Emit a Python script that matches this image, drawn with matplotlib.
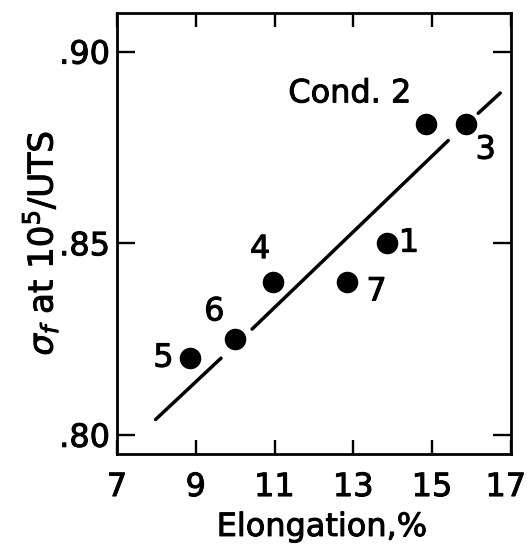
import matplotlib
matplotlib.use("Agg")
import matplotlib.pyplot as plt
import matplotlib.patheffects as pe
import matplotlib.transforms as mtransforms

# data
elongation = [8.85, 10.0, 10.95, 12.85, 13.85, 14.85, 15.85]
stress_ratio = [0.820, 0.825, 0.840, 0.840, 0.850, 0.881, 0.881]
point_labels = ["5", "6", "4", "7", "1", "Cond. 2", "3"]

# fitted line, drawn in three pieces (broken around points 6 and 3)
line_x = [[7.98, 9.64], [10.43, 15.41], [16.17, 16.73]]
line_y = [[0.804, 0.820], [0.8276, 0.8768], [0.8839, 0.8892]]

x_ticks = [7, 9, 11, 13, 15, 17]
y_ticks = [0.80, 0.85, 0.90]
y_tick_labels = [".80", ".85", ".90"]

plt.rcParams["font.family"] = "DejaVu Sans"
plt.rcParams["mathtext.fontset"] = "dejavusans"

heavy = [pe.withStroke(linewidth=0.7, foreground="black")]

fig = plt.figure(figsize=(5.28, 5.45), dpi=100)
ax = fig.add_axes([0.2216, 0.167, 0.746, 0.8086])

for xs, ys in zip(line_x, line_y):
    ax.plot(xs, ys, color="black", lw=2.5, solid_capstyle="round")

ax.plot(elongation, stress_ratio, "o", color="black", ms=14.5)

offsets = [(-19, 0), (-15, 19.5), (-9, 23), (21, -7.5), (16, 0), (-55, 22), (14.5, -18.5)]
for x, y, lab, off in zip(elongation, stress_ratio, point_labels, offsets):
    ax.annotate(lab, (x, y), xytext=off, textcoords="offset points",
                ha="center", va="center", fontsize=23, path_effects=heavy)

ax.set_xlim(7, 17)
ax.set_ylim(0.795, 0.910)
ax.set_xticks(x_ticks)
ax.set_yticks(y_ticks)
ax.set_yticklabels(y_tick_labels)

ax.tick_params(axis="both", direction="in", labelsize=23, width=1.7,
               top=True, right=True)
ax.tick_params(axis="x", length=10, pad=13)
ax.tick_params(axis="y", length=12.7, pad=5)
for t in ax.get_xticklabels() + ax.get_yticklabels():
    t.set_path_effects(heavy)
# last x label sits at the figure edge; nudge it in a little
last = ax.get_xticklabels()[-1]
last.set_transform(last.get_transform() +
                   mtransforms.ScaledTranslation(-5 / 100, 0, fig.dpi_scale_trans))
for sp in ax.spines.values():
    sp.set_linewidth(2)

ax.set_xlabel("Elongation,%", fontsize=23, va="baseline", path_effects=heavy)
ax.xaxis.set_label_coords(0.52, -0.186)
ax.set_ylabel(r"$\sigma_f$ at 10$^5$/UTS", fontsize=24.5, va="center",
              path_effects=heavy)
ax.yaxis.set_label_coords(-0.195, 0.478)

fig.savefig("out.png", dpi=100)
